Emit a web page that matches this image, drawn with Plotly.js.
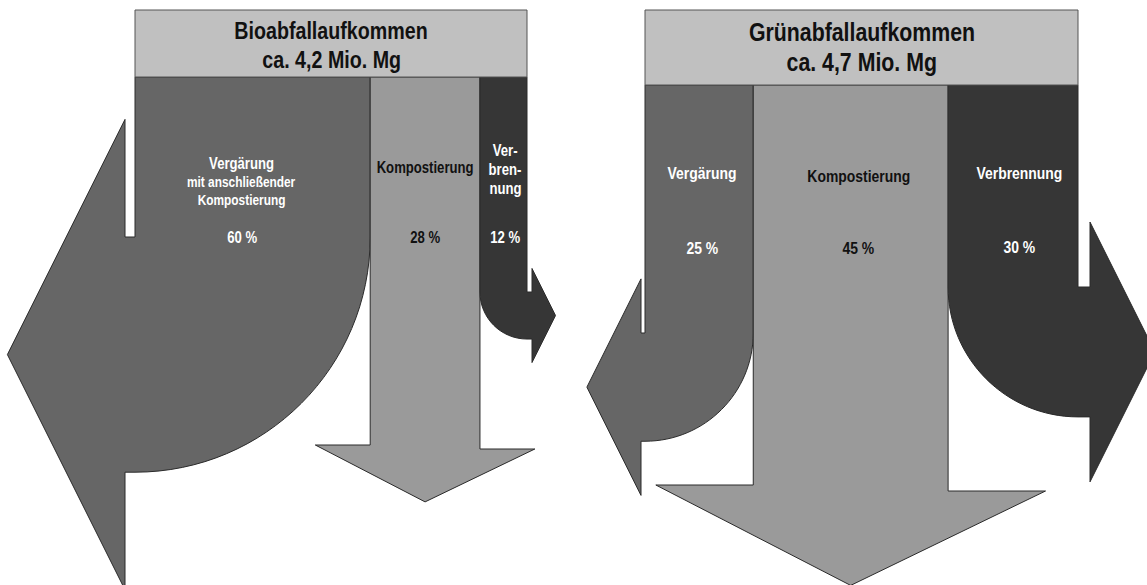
<!DOCTYPE html>
<html>
<head>
<meta charset="utf-8">
<script src="https://cdn.plot.ly/plotly-3.0.1.min.js"></script>
<style>
  html, body { margin: 0; padding: 0; background: #ffffff; }
  #chart { width: 1147px; height: 585px; }
</style>
</head>
<body>
<div id="chart"></div>
<script>
// ---- data -------------------------------------------------------------
const panelTitles = ['Bioabfallaufkommen', 'Grünabfallaufkommen'];
const panelTotals = ['ca. 4,2 Mio. Mg', 'ca. 4,7 Mio. Mg'];
const routeNames  = ['Vergärung', 'Kompostierung', 'Verbrennung'];
const bioShares   = [60, 28, 12];   // % of Bioabfall
const gruenShares = [25, 45, 30];   // % of Grünabfall
const bioLabels   = [['Vergärung', 'mit anschließender', 'Kompostierung'], ['Kompostierung'], ['Ver-', 'bren-', 'nung']];
const gruenLabels = [['Vergärung'], ['Kompostierung'], ['Verbrennung']];

// ---- layout / style ---------------------------------------------------
const FONT = "'Liberation Sans', Arial, sans-serif";
const NARROW = 0.82;               // horizontal squeeze for a condensed look
const routeFill = ['#666666', '#9a9a9a', '#363636'];
const routeText = ['#ffffff', '#111111', '#ffffff'];
const EDGE = '#2a2a2a';

const panels = [
  {
    shares: bioShares, labels: bioLabels,
    x0: 135, x1: 527, top: 10, bottom: 77, titleSize: 24, titleY: [30, 59],
    routes: [
      { dir: 'left',  turn: 237, gap: 10, labelY: [163, 182, 200], sizes: [16, 14.5, 14.5], pctY: 237, pctSize: 16, nudge: -11 },
      { dir: 'down',  turn: 445, skew: 4, labelY: [167], sizes: [16], pctY: 237, pctSize: 16, nudge: 0 },
      { dir: 'right', turn: 292, gap: 5,  labelY: [150, 169, 188], sizes: [16, 16, 16], pctY: 237, pctSize: 16, nudge: 2 }
    ]
  },
  {
    shares: gruenShares, labels: gruenLabels,
    x0: 645, x1: 1078, top: 10, bottom: 85, titleSize: 26, titleY: [32, 62],
    routes: [
      { dir: 'left',  turn: 333, gap: 4,  labelY: [173], sizes: [17], pctY: 248, pctSize: 17, nudge: 3 },
      { dir: 'down',  turn: 485, skew: 6, labelY: [176], sizes: [17], pctY: 248, pctSize: 17, nudge: 8 },
      { dir: 'right', turn: 287, gap: 12, labelY: [173], sizes: [17], pctY: 247, pctSize: 17, nudge: 6 }
    ]
  }
];

const K = 0.5523; // cubic approximation of a quarter circle

function f(v) { return v.toFixed(2); }

// Arrow outline for one stream: a band of width w leaving the header,
// bending left/right with a quarter circle or heading straight down.
function arrowPath(dir, xl, xr, yTop, r) {
  const w = xr - xl;
  const t = r.turn;
  const h = w / 2;
  if (dir === 'down') {
    const sk = r.skew || 0;
    return `M${f(xl)},${f(yTop)} L${f(xr)},${f(yTop)} L${f(xr)},${f(t + sk)} ` +
           `L${f(xr + h)},${f(t + sk)} L${f((xl + xr) / 2)},${f(t + sk / 2 + h)} ` +
           `L${f(xl - h)},${f(t)} L${f(xl)},${f(t)} Z`;
  }
  if (dir === 'left') {
    const hb = xl - r.gap;
    return `M${f(xl)},${f(yTop)} L${f(xr)},${f(yTop)} L${f(xr)},${f(t)} ` +
           `C${f(xr)},${f(t + K * w)} ${f(xl + K * w)},${f(t + w)} ${f(xl)},${f(t + w)} ` +
           `L${f(hb)},${f(t + w)} L${f(hb)},${f(t + w + h)} L${f(hb - h)},${f(t + h)} ` +
           `L${f(hb)},${f(t - h)} L${f(hb)},${f(t)} L${f(xl)},${f(t)} Z`;
  }
  // right
  const hb = xr + r.gap;
  return `M${f(xl)},${f(yTop)} L${f(xr)},${f(yTop)} L${f(xr)},${f(t)} ` +
         `L${f(hb)},${f(t)} L${f(hb)},${f(t - h)} L${f(hb + h)},${f(t + h)} ` +
         `L${f(hb)},${f(t + w + h)} L${f(hb)},${f(t + w)} L${f(xr)},${f(t + w)} ` +
         `C${f(xr - K * w)},${f(t + w)} ${f(xl)},${f(t + K * w)} ${f(xl)},${f(t)} Z`;
}

const shapes = [];
const annotations = [];

function addText(x, y, text, size, color) {
  annotations.push({
    x: x, y: y, xref: 'x', yref: 'y', showarrow: false,
    xanchor: 'center', yanchor: 'middle',
    text: '<b>' + text + '</b>',
    font: { family: FONT, size: size, color: color }
  });
}

panels.forEach((p, pi) => {
  const total = p.shares.reduce((a, b) => a + b, 0);
  const span = p.x1 - p.x0;
  let x = p.x0;
  p.shares.forEach((s, i) => {
    const xl = x;
    const xr = x + span * s / total;
    x = xr;
    const r = p.routes[i];
    shapes.push({
      type: 'path', xref: 'x', yref: 'y', layer: 'above',
      path: arrowPath(r.dir, xl, xr, p.bottom, r),
      fillcolor: routeFill[i],
      line: { color: EDGE, width: 1 }
    });
    const cx = (xl + xr) / 2 + r.nudge;
    p.labels[i].forEach((line, li) => addText(cx, r.labelY[li], line, r.sizes[li], routeText[i]));
    addText(cx, r.pctY, s + ' %', r.pctSize, routeText[i]);
  });
  // header box with the total
  shapes.push({
    type: 'rect', xref: 'x', yref: 'y', layer: 'above',
    x0: p.x0, x1: p.x1, y0: p.top, y1: p.bottom,
    fillcolor: '#c0c0c0', line: { color: '#555555', width: 1 }
  });
  const mid = (p.x0 + p.x1) / 2;
  addText(mid, p.titleY[0], panelTitles[pi], p.titleSize, '#111111');
  addText(mid, p.titleY[1], panelTotals[pi], p.titleSize, '#111111');
});

const layout = {
  width: 1147, height: 585,
  margin: { l: 0, r: 0, t: 0, b: 0, pad: 0 },
  paper_bgcolor: '#ffffff', plot_bgcolor: '#ffffff',
  showlegend: false,
  xaxis: { range: [0, 1147], visible: false, fixedrange: true },
  yaxis: { range: [585, 0], visible: false, fixedrange: true },
  shapes: shapes,
  annotations: annotations
};

Plotly.newPlot('chart', [], layout, { displayModeBar: false, staticPlot: true }).then(gd => {
  // squeeze every label horizontally about its own centre
  gd.querySelectorAll('text.annotation-text').forEach(t => {
    const bb = t.getBBox();
    const cx = bb.x + bb.width / 2;
    const prev = t.getAttribute('transform') || '';
    t.setAttribute('transform',
      `${prev} translate(${cx},0) scale(${NARROW},1) translate(${-cx},0)`.trim());
  });
});
</script>
</body>
</html>
